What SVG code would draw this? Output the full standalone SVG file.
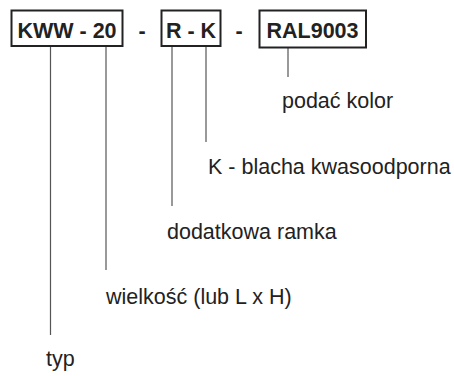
<svg xmlns="http://www.w3.org/2000/svg" width="454" height="376" viewBox="0 0 454 376">
<style>
.box{fill:#fff;stroke:#222;stroke-width:2}
.code{font-family:"Liberation Sans",Arial,sans-serif;font-weight:bold;font-size:21.5px;fill:#222}
.lbl{font-family:"Liberation Sans",Arial,sans-serif;font-size:21.5px;fill:#222}
.ln{stroke:#555;stroke-width:1.2;fill:none}
</style>
<rect width="454" height="376" fill="#fff"/>
<g id="connectors">
<line class="ln" x1="50.5" y1="46" x2="50.5" y2="335"/>
<line class="ln" x1="106" y1="46" x2="106" y2="270"/>
<line class="ln" x1="172" y1="46" x2="172" y2="206"/>
<line class="ln" x1="206" y1="46" x2="206" y2="142"/>
<line class="ln" x1="288" y1="48" x2="288" y2="77"/>
</g>
<g id="box-kww">
<rect class="box" x="11.5" y="10.5" width="111" height="35.5"/>
<text class="code" x="67" y="37.5" text-anchor="middle">KWW - 20</text>
</g>
<g id="dash1"><text class="code" x="142" y="37.5" text-anchor="middle">-</text></g>
<g id="box-rk">
<rect class="box" x="161.5" y="10.5" width="59" height="35.5"/>
<text class="code" x="191" y="37.5" text-anchor="middle">R - K</text>
</g>
<g id="dash2"><text class="code" x="239" y="37.5" text-anchor="middle">-</text></g>
<g id="box-ral">
<rect class="box" x="259.5" y="10.5" width="106.5" height="37"/>
<text class="code" x="312.5" y="37.5" text-anchor="middle">RAL9003</text>
</g>
<g id="lbl-kolor"><text class="lbl" x="282" y="108">podać kolor</text></g>
<g id="lbl-k"><text class="lbl" x="208" y="174">K - blacha kwasoodporna</text></g>
<g id="lbl-ramka"><text class="lbl" x="167" y="239">dodatkowa ramka</text></g>
<g id="lbl-wielkosc"><text class="lbl" x="106" y="304">wielkość (lub L x H)</text></g>
<g id="lbl-typ"><text class="lbl" x="46" y="366">typ</text></g>
</svg>
